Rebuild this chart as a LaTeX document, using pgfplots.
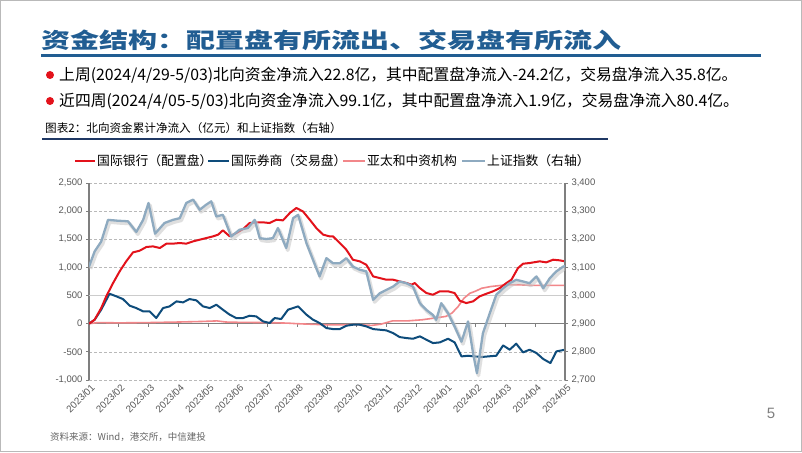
\documentclass[border=0pt]{standalone}
\usepackage{pgfplots}
\usepackage{pgfplotstable}
\pgfplotsset{compat=1.18}
\usepackage{fontspec}
\setmainfont{Liberation Sans}
\newfontfamily\cjk{Noto Sans CJK SC}
\definecolor{titleblue}{HTML}{215D92}
\definecolor{navy}{HTML}{1F3864}
\definecolor{bankred}{HTML}{E3121B}
\definecolor{brokerblue}{HTML}{0E4C7B}
\definecolor{apink}{HTML}{F2878A}
\definecolor{sse}{HTML}{8EAAC0}
\definecolor{ticklab}{HTML}{595959}
\definecolor{axgray}{HTML}{7F7F7F}

\pgfplotstableread{
x v
0 3103
0.19 3157
0.41 3192
0.64 3269
0.97 3266
1.31 3264
1.59 3226
1.82 3269
2.0 3329
2.22 3220
2.54 3258
2.82 3269
3.05 3275
3.27 3329
3.50 3341
3.72 3305
3.94 3323
4.11 3335
4.28 3281
4.50 3287
4.78 3210
5.06 3234
5.34 3240
5.57 3269
5.74 3204
5.96 3201
6.18 3204
6.35 3240
6.63 3169
6.86 3275
7.03 3287
7.31 3186
7.75 3068
7.98 3133
8.20 3115
8.43 3115
8.65 3133
8.87 3103
9.10 3092
9.32 3086
9.55 2985
9.77 3008
9.99 3020
10.22 3032
10.44 3050
10.67 3044
10.89 3032
11.12 2973
11.34 2949
11.56 2931
11.67 2914
11.84 2973
12.07 2937
12.29 2890
12.52 2836
12.74 2908
12.91 2795
13.04 2724
13.24 2866
13.47 2937
13.69 3003
13.92 3026
14.14 3044
14.36 3056
14.59 3050
14.81 3044
15.04 3068
15.27 3026
15.49 3062
15.71 3086
15.94 3103
16.0 3105
}\sse

\pgfplotstableread{
x v
0 0
0.19 71
0.41 278
0.58 486
0.81 723
1.03 930
1.25 1108
1.48 1268
1.70 1297
1.93 1363
2.15 1374
2.38 1345
2.60 1422
2.82 1422
3.05 1434
3.27 1422
3.50 1463
3.72 1493
3.94 1522
4.17 1552
4.34 1582
4.50 1659
4.73 1552
4.95 1611
5.18 1682
5.40 1789
5.62 1801
5.85 1801
6.07 1789
6.30 1848
6.52 1836
6.75 1967
6.97 2056
7.19 1996
7.42 1848
7.64 1700
7.87 1582
8.09 1552
8.20 1552
8.43 1434
8.65 1315
8.87 1137
9.10 1108
9.32 1049
9.55 841
9.77 812
9.99 782
10.22 782
10.44 752
10.67 723
10.84 693
10.95 723
11.12 634
11.34 545
11.56 515
11.79 575
12.07 575
12.29 545
12.46 409
12.68 367
12.91 397
13.13 486
13.36 533
13.58 575
13.81 634
14.03 723
14.20 782
14.42 989
14.59 1066
14.81 1078
15.15 1108
15.37 1090
15.60 1137
15.82 1126
16.0 1108
}\bank

\pgfplotstableread{
x v
0 0
0.19 71
0.41 249
0.69 533
0.92 486
1.14 438
1.37 320
1.59 278
1.82 219
2.04 219
2.26 101
2.49 278
2.71 308
2.94 397
3.16 379
3.38 438
3.61 415
3.83 308
4.06 278
4.28 338
4.50 249
4.73 160
4.95 101
5.18 101
5.40 142
5.62 130
5.85 41
6.07 12
6.24 101
6.46 83
6.69 249
7.03 308
7.31 160
7.53 71
7.75 12
7.98 -77
8.20 -95
8.43 -95
8.65 -36
8.87 -18
9.10 -18
9.32 -47
9.55 -95
9.77 -107
9.99 -118
10.22 -166
10.44 -237
10.67 -255
10.89 -267
11.12 -225
11.34 -284
11.56 -344
11.79 -332
12.07 -267
12.29 -332
12.52 -581
12.74 -569
12.96 -581
13.19 -592
13.41 -581
13.69 -569
13.92 -385
14.14 -462
14.36 -355
14.59 -509
14.81 -462
15.04 -521
15.27 -628
15.51 -699
15.71 -492
16.0 -462
}\broker

\pgfplotstableread{
x v
0 0
0.3 20
1.0 15
2.0 20
3.0 30
3.8 40
4.3 50
4.6 30
5.0 25
6.0 20
6.7 10
7.0 0
7.5 -10
8.0 -20
8.5 -20
9.0 -15
9.5 -30
9.8 -10
10.2 50
10.7 50
11.2 70
11.6 100
12.0 130
12.2 190
12.4 300
12.6 450
12.8 540
13.0 580
13.2 630
13.5 660
14.0 690
14.5 690
15.0 680
16.0 680
}\apac

\begin{document}
\begin{tikzpicture}[x=1pt,y=1pt]
\useasboundingbox (0,0) rectangle (802,452);
\fill[white] (0,0) rectangle (802,452);
\draw[gray!55, line width=1.2pt] (0.6,0.6) rectangle (801.4,451.4);
% title
\node[anchor=west, inner sep=0, text=titleblue] at (41,412) {\scalebox{1.35}[1]{\cjk\bfseries\fontsize{21.5}{24}\selectfont 资金结构：配置盘有所流出、交易盘有所流入}};
\draw[titleblue, line width=3pt] (41,396) -- (761,396);
% bullets
\fill[bankred] (50,377) circle (4);
\fill[bankred] (50,351) circle (4);
\node[anchor=west, inner sep=0] at (59,377) {\cjk\fontsize{15.8}{18}\selectfont 上周(2024/4/29-5/03)北向资金净流入22.8亿，其中配置盘净流入-24.2亿，交易盘净流入35.8亿。};
\node[anchor=west, inner sep=0] at (59,351) {\cjk\fontsize{15.8}{18}\selectfont 近四周(2024/4/05-5/03)北向资金净流入99.1亿，其中配置盘净流入1.9亿，交易盘净流入80.4亿。};
% chart title
\node[anchor=west, inner sep=0] at (45,324) {\cjk\fontsize{11.6}{14}\selectfont 图表2：北向资金累计净流入（亿元）和上证指数（右轴）};
\draw[navy, line width=1.6pt] (42,313) -- (608,313);

\begin{axis}[
  at={(89pt,72pt)}, anchor=south west, scale only axis,
  width=476pt, height=197pt,
  xmin=0, xmax=16, ymin=-1000, ymax=2500,
  axis y line*=left, axis x line*=bottom,
  x axis line style={draw=none},
  xtick={0,...,16},
  xticklabels={2023/01,2023/02,2023/03,2023/04,2023/05,2023/06,2023/07,2023/08,2023/09,2023/10,2023/11,2023/12,2024/01,2024/02,2024/03,2024/04,2024/05},
  x tick style={draw=none},
  xticklabel style={rotate=45, anchor=north east, font=\fontsize{9.8}{10}\selectfont, text=ticklab, inner sep=1pt, xshift=2pt},
  ytick={-1000,-500,...,2500},
  yticklabel style={font=\fontsize{9.5}{10}\selectfont, text=ticklab},
  /pgf/number format/assume math mode=true,
  /pgf/number format/1000 sep={,},
  scaled y ticks=false,
  ymajorgrids, grid style={gray!55, densely dashed, line width=0.5pt},
  y axis line style={draw=axgray, line width=1.2pt},
  tick align=outside, major tick length=3pt,
  y tick style={axgray, line width=0.8pt},
]
\draw[gray!40, line width=1.3pt] (axis cs:0,500) -- (axis cs:16,500);
\draw[axgray, line width=1.2pt] (axis cs:0,0) -- (axis cs:16,0);
\pgfplotsinvokeforeach{0,...,16}{\draw[axgray, line width=0.8pt] (axis cs:#1,0) -- ([yshift=-3pt]axis cs:#1,0);}
\addplot[apink, line width=1.6pt] table[x=x,y=v] {\apac};
\addplot[brokerblue, line width=2pt, line join=round] table[x=x,y=v] {\broker};
\addplot[bankred, line width=2pt, line join=round] table[x=x,y=v] {\bank};
\end{axis}

\begin{axis}[
  at={(89pt,72pt)}, anchor=south west, scale only axis,
  width=476pt, height=197pt,
  xmin=0, xmax=16, ymin=2700, ymax=3400,
  axis y line*=right, axis x line=none,
  ytick={2700,2800,...,3400},
  yticklabel style={font=\fontsize{9.5}{10}\selectfont, text=ticklab},
  /pgf/number format/assume math mode=true,
  /pgf/number format/1000 sep={,},
  scaled y ticks=false,
  y axis line style={draw=axgray, line width=1.2pt},
  tick align=outside, major tick length=3pt,
  y tick style={axgray, line width=0.8pt},
]
\addplot[gray!45, line width=3.6pt, opacity=0.55, line join=round, xshift=1.5pt, yshift=-2.2pt] table[x=x,y=v] {\sse};
\addplot[sse, line width=2.3pt, line join=round] table[x=x,y=v] {\sse};
\end{axis}

% legend
\begin{scope}[every node/.style={anchor=west, inner sep=0, font=\cjk\fontsize{12.8}{14}\selectfont}]
\draw[bankred, line width=2pt] (75,291) -- (95,291);
\node at (97,291) {国际银行（配置盘）};
\draw[brokerblue, line width=2pt] (208,291) -- (229,291);
\node at (231,291) {国际券商（交易盘）};
\draw[apink, line width=2pt] (343,291) -- (365,291);
\node at (367,291) {亚太和中资机构};
\draw[sse, line width=2pt] (462,291) -- (485,291);
\node at (487,291) {上证指数（右轴）};
\end{scope}

% source and page number
\node[anchor=west, inner sep=0, text=gray!80!black] at (50,15) {\cjk\itshape\fontsize{9.5}{11}\selectfont 资料来源：Wind，港交所，中信建投};
\node[inner sep=0, text=gray] at (771,39) {\fontsize{15}{17}\selectfont 5};
\end{tikzpicture}
\end{document}
